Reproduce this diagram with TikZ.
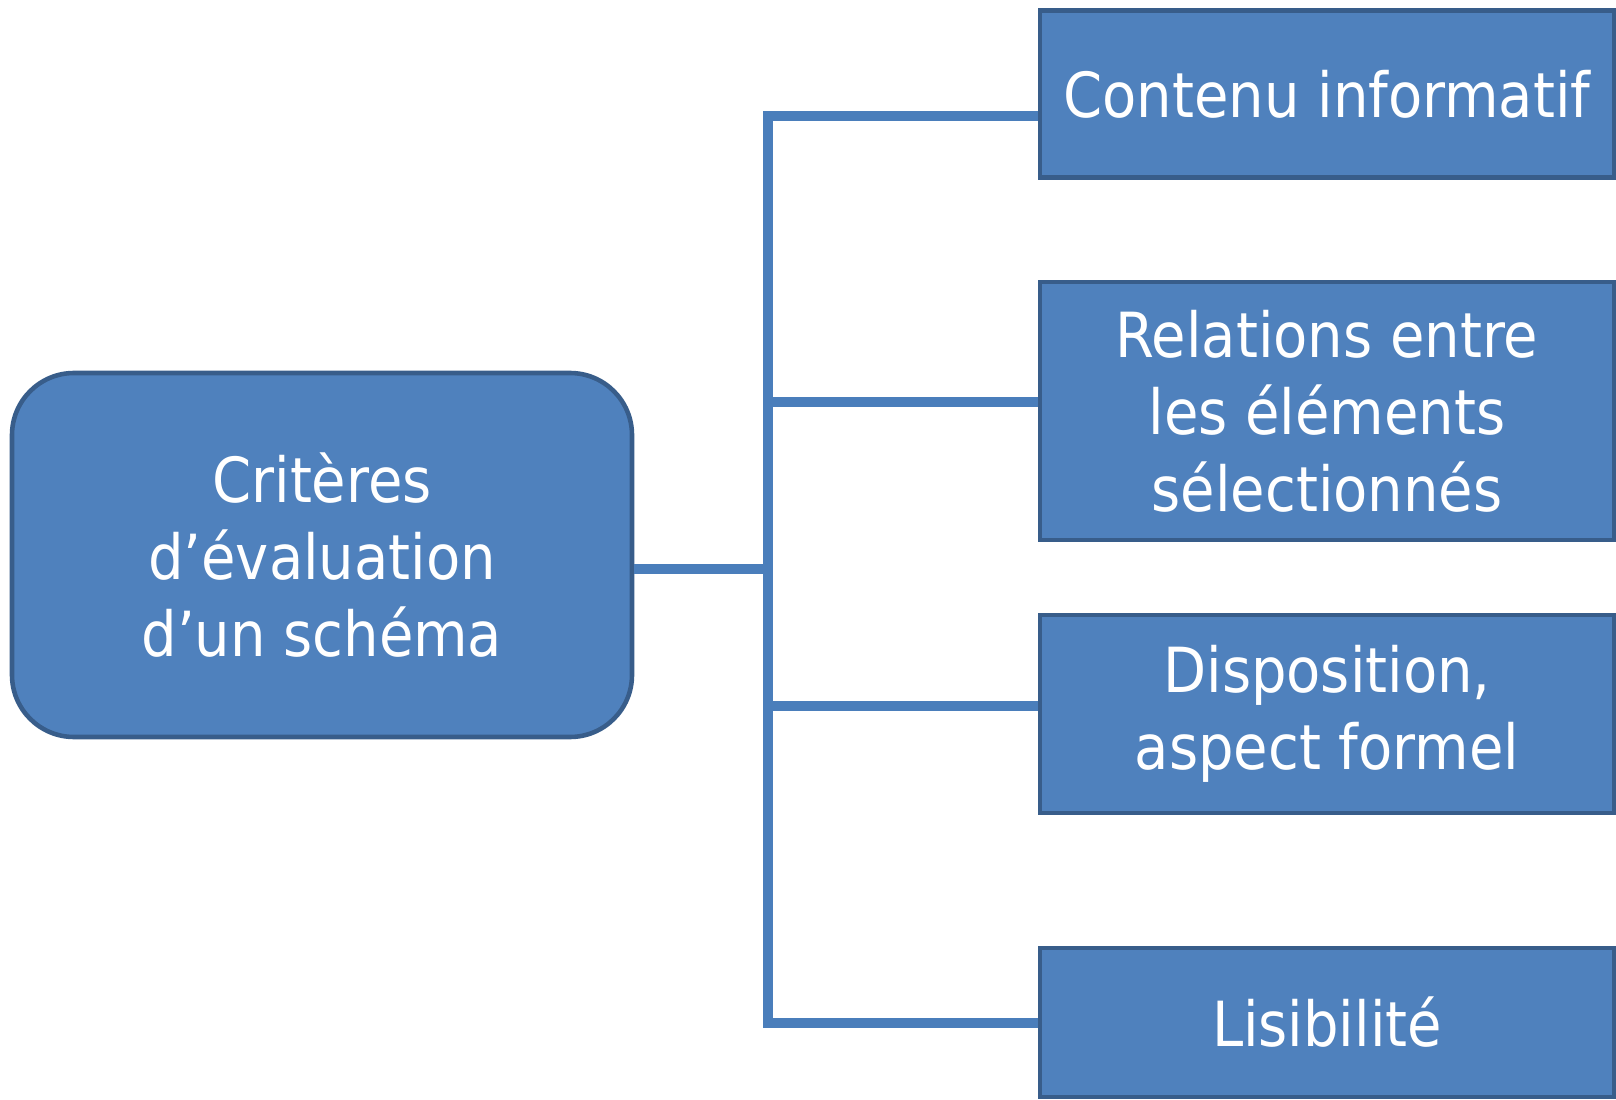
\documentclass[tikz,border=0pt]{standalone}
\usepackage{fontspec}
\setmainfont{DejaVu Sans Condensed}
\usetikzlibrary{calc}
\definecolor{boxfill}{HTML}{4F81BD}
\definecolor{boxline}{HTML}{385D8A}
\definecolor{linkblue}{HTML}{4A7EBB}
\tikzset{
  crit/.style={draw=boxline, line width=1.3pt, fill=boxfill, text=white, rounded corners=0.62cm,
    minimum width=6.2cm, minimum height=3.64cm, align=center, font=\fontsize{17.7}{21.9}\selectfont},
  critbox/.style={draw=boxline, line width=1.3pt, fill=boxfill, text=white,
    minimum width=5.74cm, align=center, font=\fontsize{17.7}{21.9}\selectfont},
  link/.style={draw=linkblue, line width=3pt}
}

\begin{document}
\begin{tikzpicture}
			%%%%% START %%%%%
			\useasboundingbox (0, 0) rectangle (16.16, 10.99);
			
			\node[crit] (eval) at (3.22, 5.44) {Critères\\d’évaluation\\d’un schéma};
			
			\node[critbox, minimum height=1.67cm] (info) at (13.27, 10.05) {Contenu informatif};
			\node[critbox, minimum height=2.58cm] (rel) at (13.27, 6.88) {Relations entre\\les éléments\\sélectionnés};
			\node[critbox, minimum height=1.98cm] (disp) at (13.27, 3.85) {Disposition,\\aspect formel};
			\node[critbox, minimum height=1.49cm] (lisi) at (13.27, 0.765) {Lisibilité};
			
			\coordinate (hub) at (7.68, 5.30);
			\coordinate (top) at (7.68, 9.83);
			\coordinate (relb) at (7.68, 6.97);
			\coordinate (dispb) at (7.68, 3.93);
			\coordinate (bot) at (7.68, 0.76);
			
			\draw[link] (hub -| eval.east) -- (hub);
			\draw[link] (top -| info.west) -- (top) -- (bot) -- (bot -| lisi.west);
			\draw[link] (relb) -- (relb -| rel.west);
			\draw[link] (dispb) -- (dispb -| disp.west);
			%%%%% END %%%%%
\end{tikzpicture}
\end{document}
